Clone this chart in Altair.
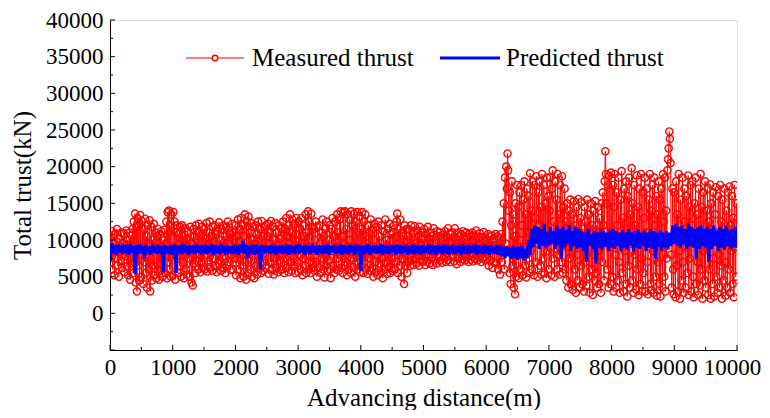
import altair as alt
import pandas as pd

# ---- Measured thrust (kN), 10 m steps, one row per 250 m ----
measured_blocks = [
    [8200, 10500, 7000, 11200, 6000, 9500, 8800, 5200, 10800, 7500, 9800, 11500, 6500, 8500, 5000, 10200, 9000, 7200, 11000, 6200, 9600, 8000, 10900, 5600, 9200],
    [7800, 11300, 6400, 10000, 5200, 8700, 11000, 4600, 9400, 10600, 6800, 11500, 5500, 12500, 7000, 13600, 4200, 11800, 3000, 13000, 6500, 12000, 4500, 13400, 8000],
    [5000, 12600, 9000, 4000, 11500, 7000, 12900, 5500, 10500, 3500, 12000, 8500, 6000, 12700, 3000, 9500, 11800, 4500, 10000, 6500, 12200, 5200, 9000, 11000, 4800],
    [10500, 6000, 11500, 4600, 9000, 10800, 5800, 11200, 7500, 5000, 10000, 8500, 11400, 5500, 9500, 12500, 4800, 13800, 7000, 14000, 6000, 12000, 5000, 13500, 8500],
    [5200, 13800, 9000, 12500, 4600, 11000, 7800, 12000, 5500, 9500, 10800, 6500, 11800, 5000, 8500, 12000, 7000, 10500, 4800, 9800, 11600, 6000, 10200, 5300, 11200],
    [7500, 10000, 5000, 11800, 8500, 4200, 9500, 3800, 11500, 6800, 10500, 5500, 12000, 7200, 9000, 11000, 6000, 12200, 8000, 5600, 10600, 7000, 11800, 6200, 9800],
    [11500, 6000, 10200, 8000, 12300, 5700, 9000, 11000, 7000, 12500, 6300, 10500, 8500, 5800, 11800, 7500, 9800, 12000, 6500, 10800, 5600, 11200, 8200, 6800, 12400],
    [7200, 10000, 5800, 11500, 9000, 6200, 12000, 7800, 10500, 5500, 11800, 8500, 6500, 12500, 7000, 9500, 11000, 5900, 10800, 8000, 12200, 6000, 11000, 7500, 9000],
    [12000, 5200, 10500, 7500, 12800, 6000, 9800, 11500, 4800, 13000, 8000, 6500, 12000, 5000, 10500, 13500, 7000, 4600, 12500, 9000, 5500, 13200, 7500, 11000, 6000],
    [12300, 5000, 10000, 8500, 11800, 4800, 9500, 12000, 6500, 10800, 5300, 12500, 7800, 6000, 11500, 9000, 5500, 12600, 7000, 10500, 5800, 11800, 8200, 6200, 12000],
    [6500, 10500, 12200, 5400, 9500, 11000, 7000, 12600, 6000, 8800, 11800, 5300, 10000, 7500, 12300, 6200, 11000, 8500, 5600, 12000, 7200, 10200, 5900, 11500, 8000],
    [6000, 12500, 9000, 5500, 11500, 7500, 13000, 6200, 10500, 12000, 5600, 9500, 13500, 7000, 11000, 5800, 12800, 8500, 6500, 12200, 5500, 10800, 13000, 7000, 9800],
    [5600, 12500, 8000, 11500, 6000, 13000, 9500, 5200, 12000, 7500, 10500, 6500, 13500, 5500, 11000, 8500, 13900, 6000, 12500, 9000, 5500, 13600, 7000, 11800, 6200],
    [11500, 5800, 10000, 12500, 7000, 5000, 11800, 8500, 6200, 12000, 9500, 5500, 11000, 7500, 12800, 6000, 10500, 4900, 11500, 8000, 6500, 12500, 5800, 10000, 7200],
    [12000, 6000, 4800, 11500, 8500, 13000, 6500, 10500, 5500, 12500, 9000, 6000, 13500, 7500, 11000, 5800, 12800, 8000, 13900, 6200, 10500, 5500, 13800, 9500, 6500],
    [13900, 7000, 11500, 5200, 13500, 8500, 6000, 12800, 10000, 5500, 13900, 7500, 12000, 6300, 13600, 9000, 5000, 12500, 7000, 13800, 6000, 11000, 8500, 13200, 5600],
    [11500, 6500, 13800, 8000, 5500, 12500, 7000, 13500, 6000, 10500, 9000, 5400, 12000, 7500, 11000, 5800, 12800, 8500, 6200, 11500, 5000, 10000, 12200, 7000, 5600],
    [11800, 8000, 5200, 12500, 6800, 10500, 9000, 5600, 12000, 7500, 4800, 11200, 8500, 6000, 12800, 7000, 10000, 5400, 11500, 9000, 6300, 12200, 5500, 10800, 7500],
    [5800, 11000, 8500, 12000, 6000, 10500, 7000, 12500, 13600, 5500, 9500, 11500, 6500, 12800, 8000, 5000, 11000, 7500, 10500, 4000, 12000, 6500, 9000, 11500, 5500],
    [10500, 7000, 11500, 8500, 6500, 12000, 9000, 7200, 11000, 6600, 10000, 11900, 7500, 9500, 6800, 11200, 8000, 10500, 6500, 11800, 7800, 9200, 11000, 7000, 10200],
    [7200, 11500, 8500, 6600, 10800, 9500, 7000, 11800, 8000, 10200, 6800, 11000, 9000, 7500, 10500, 6600, 11600, 8500, 7200, 10000, 9500, 6800, 11200, 7800, 10500],
    [8000, 11000, 7200, 10200, 9000, 6900, 10800, 8500, 7500, 11200, 9500, 7000, 10500, 8200, 11600, 7300, 9800, 10800, 7000, 9500, 11000, 7800, 10300, 8800, 7100],
    [11600, 8500, 10000, 6700, 9500, 11000, 7500, 10500, 8800, 7000, 10800, 9200, 7400, 11200, 8000, 10200, 7200, 9600, 11000, 7600, 10400, 8500, 7000, 10800, 9000],
    [7300, 10500, 8600, 11000, 7100, 9800, 10600, 7500, 9200, 11300, 8000, 7200, 10200, 9500, 7600, 10900, 8300, 7000, 10400, 9000, 7500, 11100, 8400, 9800, 7200],
    [10200, 7500, 9500, 10800, 6500, 9000, 10500, 7200, 8500, 10600, 6200, 9800, 10200, 7000, 9200, 10800, 6800, 8800, 10500, 6000, 9600, 10300, 5300, 9000, 10800],
    [7000, 12500, 8500, 15000, 6000, 18500, 9500, 20000, 17000, 21800, 19500, 14000, 5500, 16500, 4000, 12000, 18000, 6500, 13500, 3500, 10500, 2600, 15000, 5000, 17500],
    [8000, 14500, 4800, 16500, 10000, 6000, 17500, 12000, 5200, 15500, 9000, 18000, 6500, 13500, 4900, 17000, 11000, 7500, 16000, 5500, 19100, 8500, 14000, 6000, 18000],
    [10500, 5200, 17500, 13000, 7000, 18700, 9500, 5000, 16500, 12000, 18000, 6500, 14500, 5300, 19000, 10000, 7500, 17500, 5500, 15000, 11500, 4800, 18500, 8500, 16000],
    [6000, 14000, 18500, 9000, 5200, 17000, 19500, 7500, 12500, 5000, 18000, 10500, 15500, 6000, 19000, 8000, 13500, 5300, 17500, 11000, 7000, 18700, 5500, 14500, 9500],
    [17000, 6000, 12500, 4500, 15000, 9000, 3500, 14000, 7500, 15500, 4000, 11000, 13500, 3200, 9500, 15300, 6000, 12000, 2800, 14500, 8000, 4500, 15600, 10500, 3500],
    [13000, 6500, 15200, 4000, 11500, 9000, 3000, 14500, 7000, 12500, 3800, 15500, 10000, 5000, 13500, 2800, 9000, 15000, 6000, 12000, 2500, 14000, 8000, 4500, 15300],
    [5500, 12000, 3500, 14500, 8500, 4000, 13000, 10500, 2800, 15000, 7000, 16500, 12000, 4500, 18000, 22100, 19000, 15000, 6000, 17500, 3500, 18800, 9000, 4000, 19200],
    [11000, 5000, 17500, 3000, 14500, 19000, 8000, 3500, 16500, 12000, 4500, 18500, 7000, 2800, 15500, 10000, 19400, 5500, 13000, 3000, 17000, 8500, 4000, 18000, 11500],
    [2300, 16000, 6500, 18500, 3500, 13500, 9500, 19800, 4500, 15000, 2800, 17500, 8000, 12000, 3300, 18800, 6000, 14500, 2500, 17000, 10000, 4000, 19000, 7500, 3000],
    [16500, 5500, 13000, 18500, 3000, 11000, 17000, 7000, 2600, 15500, 9500, 19000, 4000, 14000, 3200, 17500, 8500, 2800, 18500, 12000, 5000, 16000, 2400, 13500, 7000],
    [18000, 4000, 15500, 2300, 17000, 9000, 3500, 19000, 12500, 5000, 18500, 3000, 14000, 7500, 19500, 21000, 22500, 24800, 23800, 20500, 8000, 3500, 17000, 6000, 2600],
    [16500, 10000, 2200, 18000, 6500, 13500, 3000, 19000, 8500, 2000, 15500, 11000, 4500, 18500, 7000, 2800, 17000, 12500, 3500, 16000, 9000, 5500, 18800, 2500, 14500],
    [7500, 17500, 3000, 12000, 18000, 5000, 2200, 15000, 9500, 18500, 4000, 13500, 7000, 2500, 17000, 11000, 3800, 19000, 6000, 14500, 2000, 16500, 8500, 4500, 18000],
    [3500, 14000, 9000, 17000, 2500, 12500, 6000, 17600, 2000, 15000, 10500, 4000, 16500, 7500, 2300, 13500, 17200, 5000, 11000, 2800, 16000, 8000, 3500, 17500, 6500],
    [12500, 2000, 15500, 9500, 4500, 17000, 7000, 2400, 14000, 11000, 3500, 16500, 6000, 17300, 2800, 12000, 8500, 16000, 4000, 13000, 2200, 17500, 9000, 5000, 15000],
    [9500],
]

# ---- Predicted thrust (kN), 25 m steps, one row per 500 m ----
predicted_rows = [
    [7000, 9600, 8200, 9300, 8000, 9400, 8300, 9200, 8100, 9400, 8200, 9300, 8000, 9500, 8300, 9200, 5300, 9300, 8100, 9400],
    [8200, 9200, 7500, 9300, 8200, 9100, 8000, 9400, 8300, 9200, 8100, 9300, 8200, 9200, 5600, 9300, 8200, 9100, 8100, 9300],
    [8000, 9400, 5500, 9200, 8200, 9300, 8100, 9400, 8300, 9200, 8000, 9300, 8200, 9200, 8100, 9400, 8300, 9200, 8000, 9300],
    [8200, 9300, 8100, 9200, 8300, 9400, 8000, 9300, 8200, 9200, 8100, 9400, 8300, 9200, 8000, 9300, 8200, 9100, 8100, 9300],
    [8200, 9200, 8000, 9400, 8300, 9900, 8100, 9300, 7500, 9200, 8200, 9300, 8000, 9400, 8200, 9200, 6000, 9300, 8100, 9200],
    [8300, 9200, 8100, 9300, 8200, 9400, 8000, 9200, 8300, 9300, 8100, 9200, 8200, 9400, 8000, 9300, 8200, 9200, 8100, 9300],
    [8200, 9400, 8300, 9200, 8000, 9300, 8200, 9200, 8100, 9400, 8300, 9200, 8000, 9300, 8200, 9200, 8100, 9300, 8200, 9400],
    [8000, 9200, 8300, 9300, 8100, 9200, 8200, 9400, 8000, 9300, 8200, 9200, 8100, 9300, 8300, 9200, 8000, 9400, 8200, 9300],
    [5800, 9200, 8100, 9300, 8200, 9400, 8000, 9200, 8300, 9300, 8100, 9200, 8200, 9400, 8000, 9300, 8200, 9200, 8100, 9300],
    [8300, 9200, 8000, 9400, 8200, 9300, 8100, 9200, 8300, 9300, 8000, 9200, 8200, 9400, 8100, 9300, 8200, 9200, 8000, 9300],
    [8200, 9200, 8300, 9400, 8100, 9300, 8200, 9200, 8000, 9300, 8300, 9200, 8100, 9400, 8200, 9300, 8000, 9200, 8200, 9300],
    [8100, 9200, 8300, 9300, 8000, 9400, 8200, 9200, 8100, 9300, 8200, 9200, 8300, 9400, 8000, 9300, 8200, 9200, 8100, 9300],
    [8200, 9200, 8000, 9300, 8200, 9100, 8100, 9300, 8000, 9200, 7800, 9100, 7500, 9200, 7800, 9000, 7400, 9200, 7600, 9000],
    [7300, 9100, 7500, 9200, 7200, 8800, 7500, 10000, 8000, 11500, 9000, 12000, 9500, 11800, 8800, 11500, 9200, 12200, 9000, 11000],
    [9200, 11800, 9500, 11200, 8800, 12000, 9300, 11500, 7500, 11800, 9000, 11300, 9500, 12000, 8500, 11200, 9200, 11800, 8800, 11500],
    [9000, 11200, 8500, 11000, 7000, 11500, 9200, 10800, 8800, 11300, 6800, 11000, 9000, 11500, 8700, 11200, 9100, 11000, 8500, 11300],
    [9000, 11500, 8800, 11200, 9200, 11000, 8500, 11300, 9000, 11000, 8700, 11500, 9200, 11000, 8500, 11200, 9000, 11400, 8800, 11000],
    [9200, 11300, 8500, 11000, 9000, 11500, 8800, 11200, 7500, 11000, 9100, 11300, 8600, 11000, 9000, 11200, 8700, 11000, 9200, 12000],
    [9500, 12200, 9200, 11800, 9000, 12000, 9400, 11500, 8800, 12200, 9200, 11800, 9000, 11500, 7500, 11800, 8800, 12000, 9200, 11500],
    [9000, 11800, 7000, 11500, 8800, 12000, 9200, 11300, 8500, 11800, 9000, 11500, 8700, 12000, 9200, 11300, 8800, 11500, 9000, 11800],
    [9000],
]

x_ticks = [0, 1000, 2000, 3000, 4000, 5000, 6000, 7000, 8000, 9000, 10000]
x_minor = [500, 1500, 2500, 3500, 4500, 5500, 6500, 7500, 8500, 9500]
y_ticks = [0, 5000, 10000, 15000, 20000, 25000, 30000, 35000, 40000]
y_minor = [-2500, 2500, 7500, 12500, 17500, 22500, 27500, 32500, 37500]
legend_labels = ["Measured thrust", "Predicted thrust"]

m_d, m_v = [], []
for bi, row in enumerate(measured_blocks):
    for j, v in enumerate(row):
        m_d.append(bi * 250 + j * 10)
        m_v.append(v)
p_d, p_v = [], []
for ri, row in enumerate(predicted_rows):
    for j, v in enumerate(row):
        p_d.append(ri * 500 + j * 25)
        p_v.append(v)

df_m = pd.DataFrame({"d": m_d, "v": m_v})
df_p = pd.DataFrame({"d": p_d, "v": p_v})

W, H = 627, 330
FONT = "Liberation Serif"

xs = alt.Scale(domain=[0, 10000], nice=False, zero=False)
ys = alt.Scale(domain=[-5000, 40000], nice=False, zero=False)

xaxis = alt.Axis(values=x_ticks, format="d", ticks=False, grid=False, labelPadding=6,
                 labelFontSize=23, labelFont=FONT, labelColor="black",
                 labelOffset={"condition": {"test": "datum.value == 10000", "value": -5}, "value": 0},
                 title="Advancing distance(m)", titleFont=FONT, titleFontSize=25,
                 titleFontWeight="normal", titleColor="black", titlePadding=6,
                 domainColor="black", labelFlush=False)
yaxis = alt.Axis(values=y_ticks, format="d", ticks=False, grid=False, labelPadding=7,
                 labelFontSize=23, labelFont=FONT, labelColor="black",
                 title="Total trust(kN)", titleFont=FONT, titleFontSize=25,
                 titleFontWeight="normal", titleColor="black", titlePadding=10,
                 domainColor="black")

X = alt.X("d:Q", scale=xs, axis=xaxis)
Y = alt.Y("v:Q", scale=ys, axis=yaxis)

m_line = alt.Chart(df_m).mark_line(color="#ff0000", strokeWidth=1, clip=True).encode(x=X, y=Y)
m_pts = alt.Chart(df_m).mark_point(shape="circle", filled=False, color="#ff0000",
                                   strokeWidth=1.4, size=52, opacity=1, clip=True).encode(x=X, y=Y)
p_line = alt.Chart(df_p).mark_line(color="#0000ff", strokeWidth=3, clip=True).encode(x=X, y=Y)

ytk = pd.DataFrame({"v": y_ticks + [-5000]})
ymn = pd.DataFrame({"v": y_minor})
xtk = pd.DataFrame({"d": x_ticks})
xmn = pd.DataFrame({"d": x_minor})
ytick_major = alt.Chart(ytk).mark_rule(color="black", strokeWidth=1).encode(
    y=alt.Y("v:Q", scale=ys, axis=yaxis), x=alt.value(0), x2=alt.value(5))
ytick_minor = alt.Chart(ymn).mark_rule(color="black", strokeWidth=1).encode(
    y=alt.Y("v:Q", scale=ys, axis=yaxis), x=alt.value(0), x2=alt.value(3))
xtick_major = alt.Chart(xtk).mark_rule(color="black", strokeWidth=1).encode(
    x=alt.X("d:Q", scale=xs, axis=xaxis), y=alt.value(H), y2=alt.value(H - 5))
xtick_minor = alt.Chart(xmn).mark_rule(color="black", strokeWidth=1).encode(
    x=alt.X("d:Q", scale=xs, axis=xaxis), y=alt.value(H), y2=alt.value(H - 3))

LY = 38
leg_df = pd.DataFrame({"label": legend_labels})
leg_red = alt.Chart(leg_df.iloc[[0]]).mark_rule(color="#ff0000", strokeWidth=1.2).encode(
    x=alt.value(76), x2=alt.value(134), y=alt.value(LY))
leg_red_pt = alt.Chart(leg_df.iloc[[0]]).mark_point(shape="circle", filled=True, fill="white",
                                                    stroke="#ff0000", strokeWidth=1.5, size=30, opacity=1).encode(
    x=alt.value(105), y=alt.value(LY))
leg_blue = alt.Chart(leg_df.iloc[[1]]).mark_rule(color="#0000ff", strokeWidth=3).encode(
    x=alt.value(330), x2=alt.value(390), y=alt.value(LY))
leg_text1 = alt.Chart(leg_df.iloc[[0]]).mark_text(align="left", baseline="middle", font=FONT,
                                                  fontSize=25, color="black").encode(
    x=alt.value(142), y=alt.value(LY), text="label:N")
leg_text2 = alt.Chart(leg_df.iloc[[1]]).mark_text(align="left", baseline="middle", font=FONT,
                                                  fontSize=25, color="black").encode(
    x=alt.value(396), y=alt.value(LY), text="label:N")

chart = alt.layer(
    m_line, m_pts, p_line,
    ytick_major, ytick_minor, xtick_major, xtick_minor,
    leg_red, leg_red_pt, leg_blue, leg_text1, leg_text2,
).properties(
    width=W, height=H, background="white",
    autosize=alt.AutoSizeParams(type="none"),
    padding={"left": 102, "top": 12, "right": 25, "bottom": 60},
).configure_view(stroke="black", strokeWidth=1).configure_axis(
    labelFont=FONT, titleFont=FONT, labelColor="black", titleColor="black"
).configure(font=FONT)

chart.save("out.html", embed_options={"renderer": "svg", "actions": False})
